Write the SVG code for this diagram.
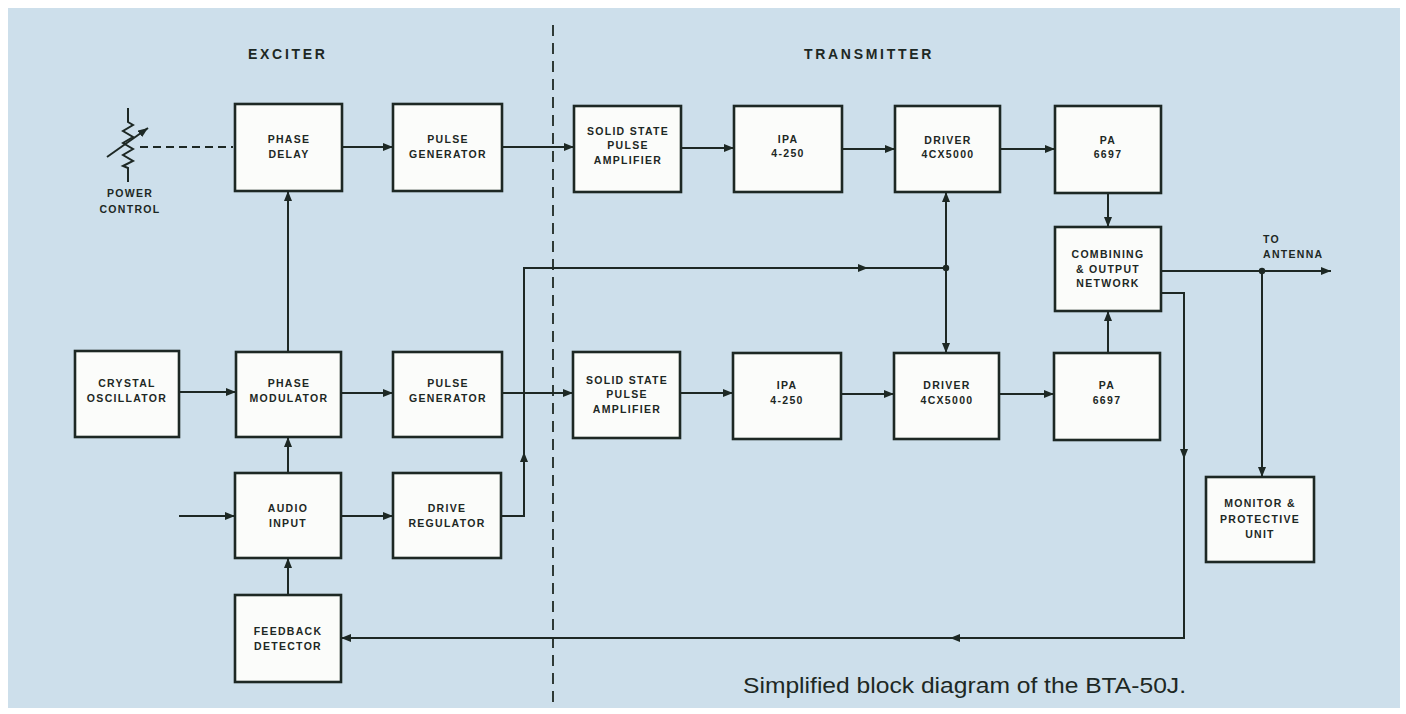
<svg xmlns="http://www.w3.org/2000/svg" width="1406" height="714" viewBox="0 0 1406 714">
<style>
.bx{fill:#fbfcfa;stroke:#1d2824;stroke-width:2.6}
.t{font-family:"Liberation Sans",Arial,sans-serif;font-weight:bold;font-size:10.5px;letter-spacing:1.3px;fill:#1d2824;text-anchor:middle}
.h{font-family:"Liberation Sans",Arial,sans-serif;font-weight:bold;font-size:14px;letter-spacing:2.7px;fill:#1d2824}
.ln{fill:none;stroke:#1d2824;stroke-width:2}
.la{fill:none;stroke:#1d2824;stroke-width:2;marker-end:url(#arr)}
</style>
<defs>
<marker id="arr" viewBox="0 0 10 8" refX="10" refY="4" markerWidth="10" markerHeight="8" markerUnits="userSpaceOnUse" orient="auto">
<path d="M0,0 L10,4 L0,8 z" fill="#1d2824"/>
</marker>
</defs>
<rect x="0" y="0" width="1406" height="714" fill="#ffffff"/>
<rect x="8" y="8" width="1392" height="700" fill="#cddfeb"/>
<line x1="553" y1="25" x2="553" y2="703" stroke="#1d2824" stroke-width="1.8" stroke-dasharray="11,7"/>
<text class="h" x="248" y="59">EXCITER</text>
<text class="h" x="804" y="59">TRANSMITTER</text>

<g id="power_control">
<path class="ln" d="M128,108 V122 L133,125 L123,131 L133,137 L123,143 L133,149 L123,155 L133,161 L123,166 L128,168 V182"/>
<line class="la" x1="107" y1="157" x2="148" y2="128"/>
<line x1="140" y1="147" x2="233" y2="147" stroke="#1d2824" stroke-width="2" stroke-dasharray="8,5"/>
<text class="t" x="130" y="197">POWER</text>
<text class="t" x="130" y="213">CONTROL</text>
</g>

<g id="phase_delay"><rect class="bx" x="235" y="104" width="107" height="87"/><text class="t" x="289" y="143">PHASE</text><text class="t" x="289" y="158">DELAY</text></g>
<g id="pulse_gen_1"><rect class="bx" x="393" y="104" width="109" height="87"/><text class="t" x="448" y="143">PULSE</text><text class="t" x="448" y="158">GENERATOR</text></g>
<g id="ssa_1"><rect class="bx" x="574" y="106" width="107" height="86"/><text class="t" x="628" y="135">SOLID STATE</text><text class="t" x="628" y="149">PULSE</text><text class="t" x="628" y="164">AMPLIFIER</text></g>
<g id="ipa_1"><rect class="bx" x="734" y="106" width="108" height="86"/><text class="t" x="788" y="143">IPA</text><text class="t" x="788" y="157">4-250</text></g>
<g id="driver_1"><rect class="bx" x="895" y="106" width="105" height="86"/><text class="t" x="948" y="144">DRIVER</text><text class="t" x="948" y="158">4CX5000</text></g>
<g id="pa_1"><rect class="bx" x="1055" y="106" width="106" height="87"/><text class="t" x="1108" y="144">PA</text><text class="t" x="1108" y="158">6697</text></g>
<g id="combining"><rect class="bx" x="1055" y="227" width="106" height="84"/><text class="t" x="1108" y="258">COMBINING</text><text class="t" x="1108" y="273">&amp; OUTPUT</text><text class="t" x="1108" y="287">NETWORK</text></g>
<g id="crystal"><rect class="bx" x="75" y="351" width="104" height="86"/><text class="t" x="127" y="387">CRYSTAL</text><text class="t" x="127" y="402">OSCILLATOR</text></g>
<g id="phase_mod"><rect class="bx" x="236" y="352" width="105" height="85"/><text class="t" x="289" y="387">PHASE</text><text class="t" x="289" y="402">MODULATOR</text></g>
<g id="pulse_gen_2"><rect class="bx" x="393" y="352" width="109" height="85"/><text class="t" x="448" y="387">PULSE</text><text class="t" x="448" y="402">GENERATOR</text></g>
<g id="ssa_2"><rect class="bx" x="573" y="352" width="107" height="86"/><text class="t" x="627" y="384">SOLID STATE</text><text class="t" x="627" y="398">PULSE</text><text class="t" x="627" y="413">AMPLIFIER</text></g>
<g id="ipa_2"><rect class="bx" x="733" y="353" width="108" height="86"/><text class="t" x="787" y="389">IPA</text><text class="t" x="787" y="404">4-250</text></g>
<g id="driver_2"><rect class="bx" x="894" y="353" width="105" height="86"/><text class="t" x="947" y="389">DRIVER</text><text class="t" x="947" y="404">4CX5000</text></g>
<g id="pa_2"><rect class="bx" x="1054" y="353" width="106" height="87"/><text class="t" x="1107" y="389">PA</text><text class="t" x="1107" y="404">6697</text></g>
<g id="audio_input"><rect class="bx" x="235" y="473" width="106" height="85"/><text class="t" x="288" y="512">AUDIO</text><text class="t" x="288" y="527">INPUT</text></g>
<g id="drive_regulator"><rect class="bx" x="393" y="473" width="108" height="85"/><text class="t" x="447" y="512">DRIVE</text><text class="t" x="447" y="527">REGULATOR</text></g>
<g id="feedback_detector"><rect class="bx" x="235" y="595" width="106" height="87"/><text class="t" x="288" y="635">FEEDBACK</text><text class="t" x="288" y="650">DETECTOR</text></g>
<g id="monitor"><rect class="bx" x="1206" y="477" width="108" height="85"/><text class="t" x="1260" y="507">MONITOR &amp;</text><text class="t" x="1260" y="523">PROTECTIVE</text><text class="t" x="1260" y="538">UNIT</text></g>

<g id="connectors">
<line class="la" x1="342" y1="147" x2="393" y2="147"/>
<line class="la" x1="502" y1="147" x2="574" y2="147"/>
<line class="la" x1="681" y1="148" x2="734" y2="148"/>
<line class="la" x1="842" y1="149" x2="895" y2="149"/>
<line class="la" x1="1000" y1="149" x2="1055" y2="149"/>
<line class="la" x1="1108" y1="193" x2="1108" y2="227"/>
<line class="la" x1="1108" y1="353" x2="1108" y2="311"/>
<line class="la" x1="288" y1="352" x2="288" y2="191"/>
<line class="la" x1="179" y1="392" x2="236" y2="392"/>
<line class="la" x1="341" y1="393" x2="393" y2="393"/>
<line class="la" x1="502" y1="393" x2="573" y2="393"/>
<line class="la" x1="680" y1="393" x2="733" y2="393"/>
<line class="la" x1="841" y1="394" x2="894" y2="394"/>
<line class="la" x1="999" y1="394" x2="1054" y2="394"/>
<line class="la" x1="288" y1="473" x2="288" y2="437"/>
<line class="la" x1="288" y1="595" x2="288" y2="558"/>
<line class="la" x1="179" y1="516" x2="235" y2="516"/>
<line class="la" x1="341" y1="516" x2="393" y2="516"/>
<path class="la" d="M501,516 H524 V452"/>
<path class="la" d="M524,452 V268 H868"/>
<path class="ln" d="M868,268 H946"/>
<line class="la" x1="946" y1="268" x2="946" y2="192"/>
<line class="la" x1="946" y1="268" x2="946" y2="353"/>
<circle cx="946" cy="268" r="3.2" fill="#1d2824"/>
<line class="la" x1="1161" y1="271" x2="1331" y2="271"/>
<circle cx="1262" cy="271" r="3.2" fill="#1d2824"/>
<line class="la" x1="1262" y1="271" x2="1262" y2="477"/>
<path class="la" d="M1161,293 H1184 V459"/>
<path class="la" d="M1184,459 V638 H950"/>
<line class="la" x1="950" y1="638" x2="341" y2="638"/>
</g>
<text x="1263" y="243" font-family="'Liberation Sans',Arial,sans-serif" font-weight="bold" font-size="10.5" letter-spacing="1.3" fill="#1d2824">TO</text>
<text x="1263" y="258" font-family="'Liberation Sans',Arial,sans-serif" font-weight="bold" font-size="10.5" letter-spacing="1.3" fill="#1d2824">ANTENNA</text>
<text x="743" y="693" font-family="'Liberation Sans',Arial,sans-serif" font-size="22" fill="#1d2824" textLength="443" lengthAdjust="spacingAndGlyphs">Simplified block diagram of the BTA-50J.</text>
</svg>
